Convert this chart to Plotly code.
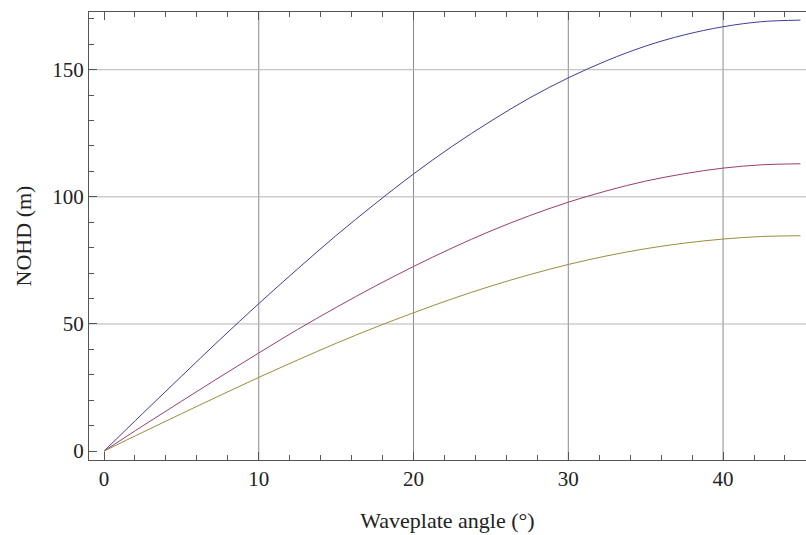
import plotly.graph_objects as go

angles = [0, 2.5, 5, 7.5, 10, 12.5, 15, 17.5, 20, 22.5, 25, 27.5, 30, 32.5, 35, 37.5, 40, 42.5, 45]
blue_vals = [0, 14.8, 29.4, 43.9, 58.0, 71.6, 84.8, 97.2, 109.0, 119.9, 129.8, 138.9, 146.8, 153.6, 159.3, 163.7, 166.9, 168.9, 169.5]
purple_vals = [0, 9.9, 19.6, 29.2, 38.6, 47.8, 56.5, 64.8, 72.6, 79.9, 86.6, 92.6, 97.9, 102.4, 106.2, 109.1, 111.3, 112.6, 113.0]
gold_vals = [0, 7.4, 14.7, 21.9, 29.0, 35.8, 42.4, 48.6, 54.4, 59.9, 64.9, 69.4, 73.4, 76.8, 79.6, 81.8, 83.4, 84.4, 84.7]

x_ticks = [0, 10, 20, 30, 40]
y_ticks = [0, 50, 100, 150]
x_grid = [10, 20, 30, 40]
y_grid = [50, 100, 150]

series = [
    (blue_vals, "#3d3d99"),
    (purple_vals, "#993d71"),
    (gold_vals, "#998d3d"),
]

fig = go.Figure()
for vals, col in series:
    fig.add_trace(go.Scatter(x=angles, y=vals, mode="lines",
                             line=dict(color=col, width=1, shape="spline"),
                             showlegend=False))

for gx in x_grid:
    fig.add_vline(x=gx, line=dict(color="#8c8c8c", width=1), layer="below")
for gy in y_grid:
    fig.add_hline(y=gy, line=dict(color="#b4b4b4", width=1), layer="below")

tick_font = dict(family="Liberation Serif, Times New Roman, serif", size=21, color="#222")
title_font = dict(family="Liberation Serif, Times New Roman, serif", size=22, color="#222")

fig.update_layout(
    width=806, height=535,
    margin=dict(l=89, r=0, t=12, b=75),
    plot_bgcolor="white", paper_bgcolor="white",
    font=tick_font,
    xaxis=dict(
        range=[-0.97, 45.36], tickvals=x_ticks, showgrid=False, zeroline=False,
        showline=True, linecolor="#555", linewidth=1, mirror="allticks",
        ticks="inside", ticklen=8, tickcolor="#555", tickwidth=1,
        minor=dict(dtick=2, tick0=0, ticks="inside", ticklen=5, tickcolor="#555", showgrid=False),
        title=dict(text="Waveplate angle (°)", standoff=22, font=title_font),
        tickfont=tick_font,
    ),
    yaxis=dict(
        range=[-3.5, 172.7], tickvals=y_ticks, showgrid=False, zeroline=False,
        showline=True, linecolor="#555", linewidth=1, mirror=False,
        ticks="inside", ticklen=8, tickcolor="#555", tickwidth=1,
        minor=dict(dtick=10, tick0=0, ticks="inside", ticklen=5, tickcolor="#555", showgrid=False),
        title=dict(text="NOHD (m)", standoff=14, font=title_font),
        tickfont=tick_font,
    ),
)

fig.write_html("out.html")
